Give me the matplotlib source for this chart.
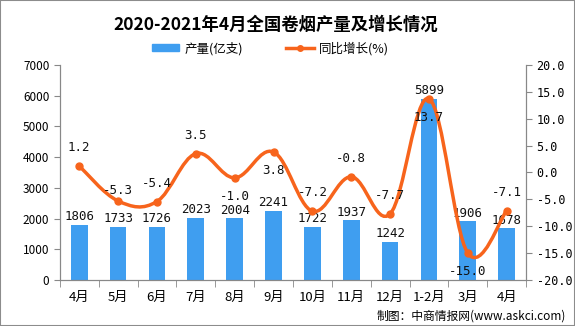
import matplotlib
matplotlib.use("Agg")
import matplotlib.pyplot as plt
from matplotlib.path import Path
from matplotlib.patches import PathPatch, Patch, Rectangle
from matplotlib.lines import Line2D
import numpy as np

plt.rcParams["font.family"] = ["Noto Sans CJK SC", "DejaVu Sans"]

months = ["4月", "5月", "6月", "7月", "8月", "9月", "10月", "11月", "12月", "1-2月", "3月", "4月"]
output = [1806, 1733, 1726, 2023, 2004, 2241, 1722, 1937, 1242, 5899, 1906, 1678]
growth = [1.2, -5.3, -5.4, 3.5, -1.0, 3.8, -7.2, -0.8, -7.7, 13.7, -15.0, -7.1]
# label above (+) or below (-) the point
growth_side = [1, 0.3, 1, 1, -1, -1, 1, 1, 1, -1, -1, 1]

bar_color = "#3f9ef0"
line_color = "#f7641c"

fig = plt.figure(figsize=(5.75, 3.26), dpi=100)
fig.patches.append(Rectangle((0, 0), 1, 1, transform=fig.transFigure,
                             fill=False, edgecolor="#8c8c8c", linewidth=1.5))
ax = fig.add_axes([0.104, 0.141, 0.811, 0.660])
ax2 = ax.twinx()

x = np.arange(len(months))
ax.bar(x, output, width=0.43, color=bar_color, zorder=2)
for xi, v in zip(x, output):
    ax.text(xi, v + 60, str(v), ha="center", va="bottom", fontsize=9,
            family="DejaVu Sans Mono", color="#111111", zorder=5)

ax.set_xlim(-0.5, len(months) - 0.5)
ax.set_ylim(0, 7000)
ax.set_yticks(range(0, 7001, 1000))
ax.set_xticks(x)
ax.set_xticklabels(months, fontsize=9.5)
ax.set_xticks(np.arange(-0.5, len(months), 1), minor=True)
ax.tick_params(axis="x", which="major", length=0, pad=8)
ax.tick_params(axis="x", which="minor", length=5, color="#888888")
ax.tick_params(axis="y", labelsize=8.5, length=4, color="#888888")

ax2.set_ylim(-20, 20)
ax2.set_yticks(range(-20, 21, 5))
ax2.set_yticklabels([f"{v:.1f}" for v in range(-20, 21, 5)], family="DejaVu Sans Mono")
ax2.tick_params(axis="y", labelsize=8.5, length=4, color="#888888")

for a in (ax, ax2):
    a.spines["top"].set_visible(False)
    for s in ("left", "right", "bottom"):
        a.spines[s].set_color("#888888")

# smooth line through the points (Catmull-Rom as cubic Bezier segments)
pts = np.column_stack([x, growth]).astype(float)
verts = [tuple(pts[0])]
codes = [Path.MOVETO]
n = len(pts)
for i in range(n - 1):
    p0 = pts[max(i - 1, 0)]
    p1 = pts[i]
    p2 = pts[i + 1]
    p3 = pts[min(i + 2, n - 1)]
    c1 = p1 + (p2 - p0) / 5.5
    c2 = p2 - (p3 - p1) / 5.5
    verts += [tuple(c1), tuple(c2), tuple(p2)]
    codes += [Path.CURVE4] * 3
ax2.add_patch(PathPatch(Path(verts, codes), fill=False, edgecolor=line_color,
                        linewidth=2.5, zorder=3))
ax2.plot(x, growth, "o", color=line_color, markersize=5, zorder=4)
for xi, v, side in zip(x, growth, growth_side):
    off = 2.2 * side
    ax2.text(xi, v + off, f"{v:.1f}", ha="center",
             va="bottom" if side > 0 else "top", fontsize=9,
             family="DejaVu Sans Mono", color="#111111", zorder=5)

fig.text(0.48, 0.925, "2020-2021年4月全国卷烟产量及增长情况", ha="center", va="center",
         fontsize=12.5, fontweight="bold")
handles = [Patch(color=bar_color),
           Line2D([0], [0], color=line_color, linewidth=2.5, marker="o", markersize=4)]
fig.legend(handles, ["产量(亿支)", "同比增长(%)"], loc="center", bbox_to_anchor=(0.47, 0.852),
           ncol=2, frameon=False, fontsize=9, handlelength=2.2, handleheight=0.5,
           columnspacing=3.5, handletextpad=0.4)
fig.text(0.985, 0.03, "制图：中商情报网(www.askci.com)", ha="right", va="center", fontsize=8.5)

fig.savefig("out.png", dpi=100)
